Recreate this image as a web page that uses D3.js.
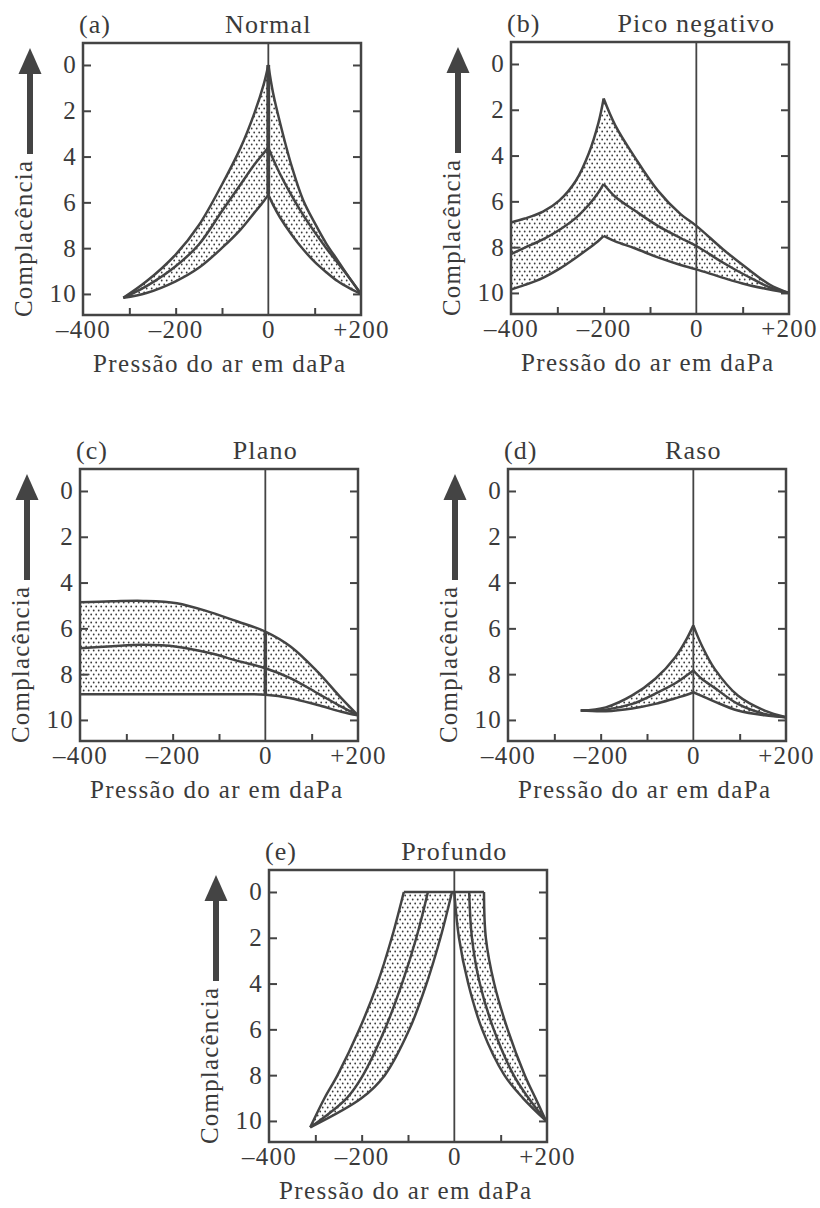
<!DOCTYPE html>
<html>
<head>
<meta charset="utf-8">
<script src="https://cdn.jsdelivr.net/npm/d3@7"></script>
<style>
  body { margin: 0; background: #ffffff; }
  svg text { font-family: "Liberation Serif", "Times New Roman", serif; fill: #3a3a3a; }
</style>
</head>
<body>
<svg id="chart" width="820" height="1208"></svg>
<script>
// ---------------- DATA ----------------
const panelLetters = ["(a)", "(b)", "(c)", "(d)", "(e)"];
const panelTitles = ["Normal", "Pico negativo", "Plano", "Raso", "Profundo"];
const yAxisTitle = "Complacência";
const xAxisTitle = "Pressão do ar em daPa";
const xLabelTicks = [-400, -200, 0, 200];
const xMinorTicks = [-300, -200, -100, 100];
const yTicks = [0, 2, 4, 6, 8, 10];

// (a) Normal — left branch (pressure -> compliance)
const aLeftP      = [-313, -263, -200, -150, -100, -60, -30, -10, 0];
const aLeftUpper  = [10.17, 9.45, 8.28, 7.0, 5.22, 3.62, 2.1, 0.85, 0];
const aLeftMiddle = [10.17, 9.66, 8.79, 7.84, 6.38, 5.22, 4.35, 3.85, 3.6];
const aLeftLower  = [10.17, 9.96, 9.45, 8.86, 7.99, 7.19, 6.45, 5.95, 5.66];
// (a) Normal — right branch
const aRightP      = [0, 10, 25, 50, 75, 100, 125, 150, 175, 200];
const aRightUpper  = [0, 1.2, 2.5, 4.4, 5.9, 6.9, 7.8, 8.55, 9.3, 10];
const aRightMiddle = [3.6, 4.1, 4.75, 5.7, 6.55, 7.3, 8.0, 8.65, 9.3, 10];
const aRightLower  = [5.66, 6.1, 6.65, 7.4, 8.05, 8.6, 9.05, 9.45, 9.75, 10];

// (b) Pico negativo
const bLeftP      = [-400, -370, -331, -296, -260, -232, -211, -200];
const bLeftUpper  = [6.92, 6.75, 6.45, 5.97, 5.1, 3.9, 2.55, 1.51];
const bLeftMiddle = [8.3, 8.02, 7.66, 7.25, 6.72, 6.15, 5.6, 5.24];
const bLeftLower  = [9.85, 9.65, 9.34, 8.95, 8.46, 8.05, 7.72, 7.51];
const bRightP      = [-200, -175, -133, -83, -34, 0, 58, 108, 158, 200];
const bRightUpper  = [1.51, 2.68, 4.07, 5.53, 6.56, 7.07, 8.1, 8.9, 9.63, 10];
const bRightMiddle = [5.24, 5.8, 6.4, 7.07, 7.6, 7.95, 8.68, 9.25, 9.75, 10];
const bRightLower  = [7.51, 7.75, 8.05, 8.45, 8.78, 8.97, 9.34, 9.63, 9.85, 10];

// (c) Plano
const cP      = [-400, -330, -264, -191, -118, -60, 0, 55, 113, 164, 200];
const cUpper  = [4.86, 4.82, 4.8, 4.9, 5.3, 5.7, 6.14, 6.8, 7.9, 9.05, 9.8];
const cMiddle = [6.87, 6.78, 6.72, 6.8, 7.09, 7.42, 7.74, 8.18, 8.84, 9.42, 9.8];
const cLower  = [8.88, 8.88, 8.88, 8.88, 8.88, 8.88, 8.9, 9.05, 9.35, 9.64, 9.8];

// (d) Raso
const dLeftP      = [-243, -189, -132, -82, -39, -14, 0];
const dLeftUpper  = [9.59, 9.45, 8.93, 8.2, 7.26, 6.45, 5.87];
const dLeftMiddle = [9.59, 9.55, 9.3, 8.85, 8.4, 8.05, 7.84];
const dLeftLower  = [9.59, 9.62, 9.5, 9.3, 9.05, 8.9, 8.79];
const dRightP      = [0, 18, 46, 96, 154, 200];
const dRightUpper  = [5.87, 6.74, 7.77, 8.93, 9.59, 9.88];
const dRightMiddle = [7.84, 8.2, 8.6, 9.3, 9.74, 9.88];
const dRightLower  = [8.79, 8.95, 9.2, 9.59, 9.8, 9.88];

// (e) Profundo — curves given as pressure at compliance levels
const eLeftLevels  = [0, 2, 4, 6, 8, 9, 10.28];
const eLeftUpper   = [-109, -135, -166, -205, -252, -280, -311];
const eLeftMiddle  = [-57, -82, -113, -150, -197, -232, -311];
const eLeftLower   = [-5, -30, -60, -97, -150, -200, -311];
const eRightLevels = [0, 2, 4, 6, 8, 9, 10];
const eRightOuter  = [64, 68, 86, 115, 152, 175, 198];
const eRightMiddle = [32, 38, 55, 85, 128, 160, 198];
const eRightInner  = [0, 10, 30, 60, 108, 148, 198];

// ---------------- LAYOUT ----------------
const W = 278, H = 272;
const layout = [
  { left: 83,  top: 43,  emph: true },
  { left: 511, top: 42,  emph: false },
  { left: 80,  top: 469, emph: true },
  { left: 508, top: 469, emph: false },
  { left: 269, top: 870, emph: false }
];

const zip = (p, u, m, l) => p.map((v, i) => ({ p: v, u: u[i], m: m[i], l: l[i] }));

const panelsData = [
  { kind: "x", branches: [zip(aLeftP, aLeftUpper, aLeftMiddle, aLeftLower), zip(aRightP, aRightUpper, aRightMiddle, aRightLower)] },
  { kind: "x", branches: [zip(bLeftP, bLeftUpper, bLeftMiddle, bLeftLower), zip(bRightP, bRightUpper, bRightMiddle, bRightLower)] },
  { kind: "x", branches: [zip(cP, cUpper, cMiddle, cLower)] },
  { kind: "x", branches: [zip(dLeftP, dLeftUpper, dLeftMiddle, dLeftLower), zip(dRightP, dRightUpper, dRightMiddle, dRightLower)] },
  { kind: "y", branches: [zip(eLeftLevels, eLeftUpper, eLeftMiddle, eLeftLower), zip(eRightLevels, eRightOuter, eRightMiddle, eRightInner)] }
];

// ---------------- DRAW ----------------
const ink = "#444";
const curve = d3.curveCatmullRom.alpha(0.5);
const svg = d3.select("#chart");
svg.append("rect").attr("width", 820).attr("height", 1208).attr("fill", "#fff");

const defs = svg.append("defs");
const pat = defs.append("pattern").attr("id", "stipple")
  .attr("patternUnits", "userSpaceOnUse").attr("width", 5).attr("height", 8);
pat.append("rect").attr("width", 5).attr("height", 8).attr("fill", "#fff");
pat.append("circle").attr("cx", 1.2).attr("cy", 1.5).attr("r", 0.9).attr("fill", "#3c3c3c");
pat.append("circle").attr("cx", 3.7).attr("cy", 5.5).attr("r", 0.9).attr("fill", "#3c3c3c");

const fmt = d => d > 0 ? "+" + d : d < 0 ? "\u2013" + Math.abs(d) : "0";

layout.forEach((L, idx) => {
  const data = panelsData[idx];
  const g = svg.append("g").attr("transform", `translate(${L.left},${L.top})`);
  const x = d3.scaleLinear().domain([-400, 200]).range([0, W]);
  const y = d3.scaleLinear().domain([-0.96, 10.92]).range([0, H]);

  // bands
  data.branches.forEach(br => {
    let area;
    if (data.kind === "x") {
      area = d3.area().x(d => x(d.p)).y0(d => y(d.u)).y1(d => y(d.l)).curve(curve);
    } else {
      area = d3.area().y(d => y(d.p)).x0(d => x(d.u)).x1(d => x(d.l)).curve(curve);
    }
    g.append("path").attr("d", area(br)).attr("fill", "url(#stipple)").attr("stroke", "none");
  });

  // zero line
  g.append("line").attr("x1", x(0)).attr("x2", x(0)).attr("y1", 0).attr("y2", H)
    .attr("stroke", ink).attr("stroke-width", 1.8);

  // emphasised zero segment inside the band
  if (L.emph) {
    data.branches.forEach(br => {
      const z = br.find(d => d.p === 0);
      if (z) {
        g.append("line").attr("x1", x(0)).attr("x2", x(0)).attr("y1", y(z.u)).attr("y2", y(z.l))
          .attr("stroke", ink).attr("stroke-width", 3.5);
      }
    });
  }

  // curves
  data.branches.forEach(br => {
    ["u", "m", "l"].forEach(k => {
      let line;
      if (data.kind === "x") {
        line = d3.line().x(d => x(d.p)).y(d => y(d[k])).curve(curve);
      } else {
        line = d3.line().y(d => y(d.p)).x(d => x(d[k])).curve(curve);
      }
      g.append("path").attr("d", line(br)).attr("fill", "none")
        .attr("stroke", ink).attr("stroke-width", 2.5).attr("stroke-linejoin", "round");
    });
  });

  // flat top for (e)
  if (data.kind === "y") {
    const topLine = d3.line().x(d => x(d[0])).y(d => y(d[1]));
    g.append("path").attr("d", topLine([[eLeftUpper[0], eLeftLevels[0]], [eRightOuter[0], eRightLevels[0]]]))
      .attr("stroke", ink).attr("stroke-width", 2.5).attr("fill", "none");
  }

  // axes
  const styleAxis = sel => {
    sel.attr("color", ink);
    sel.select(".domain").remove();
    sel.selectAll(".tick line").attr("stroke-width", 2);
    sel.selectAll("text").style("font-size", "25px").style("letter-spacing", "1.2px");
  };
  g.append("g").call(d3.axisLeft(y).tickValues(yTicks).tickSize(-8).tickPadding(6).tickFormat(d3.format("d"))).call(styleAxis);
  g.append("g").attr("transform", `translate(${W},0)`).call(d3.axisRight(y).tickValues(yTicks).tickSize(-8).tickFormat("")).call(styleAxis);
  g.append("g").attr("transform", `translate(0,${H})`).call(d3.axisBottom(x).tickValues(xMinorTicks).tickSize(-7).tickFormat("")).call(styleAxis);
  g.append("g").attr("transform", `translate(0,${H})`).call(d3.axisBottom(x).tickValues(xLabelTicks).tickSize(0).tickPadding(5).tickFormat(fmt)).call(styleAxis);

  // frame
  g.append("rect").attr("x", 0).attr("y", 0).attr("width", W).attr("height", H)
    .attr("fill", "none").attr("stroke", ink).attr("stroke-width", 2.5);

  // titles
  g.append("text").attr("x", -4).attr("y", -10).style("font-size", "26px").style("letter-spacing", "1px").text(panelLetters[idx]);
  g.append("text").attr("x", x(0)).attr("y", -10).attr("text-anchor", "middle")
    .style("font-size", "26px").style("letter-spacing", "1.2px").text(panelTitles[idx]);

  // x axis title
  g.append("text").attr("x", W / 2 - 3).attr("y", H + 57).attr("text-anchor", "middle")
    .attr("textLength", 252).attr("lengthAdjust", "spacing")
    .style("font-size", "25px").text(xAxisTitle);

  // y axis arrow + title
  const ax = -53;
  g.append("rect").attr("x", ax - 3).attr("y", 30).attr("width", 6).attr("height", 81).attr("fill", "#444");
  g.append("path").attr("d", `M${ax},5 L${ax + 11.5},31 L${ax - 11.5},31 Z`).attr("fill", "#444");
  g.append("text").attr("transform", `translate(${ax + 2},${196}) rotate(-90)`)
    .attr("text-anchor", "middle").attr("textLength", 156).attr("lengthAdjust", "spacing")
    .style("font-size", "25px").text(yAxisTitle);
});
</script>
</body>
</html>
